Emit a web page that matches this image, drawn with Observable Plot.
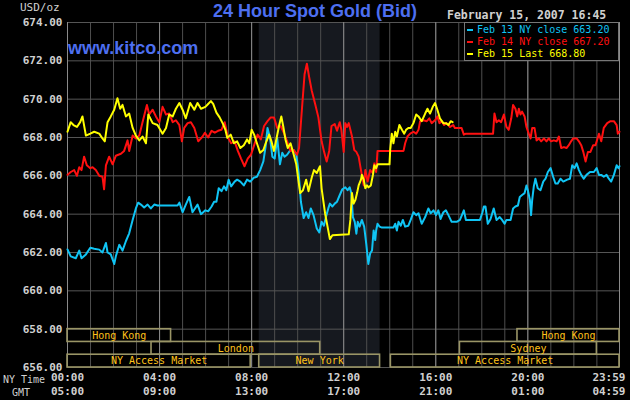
<!DOCTYPE html>
<html>
<head>
<meta charset="utf-8">
<script src="https://cdn.jsdelivr.net/npm/d3@7"></script>
<script src="https://cdn.jsdelivr.net/npm/@observablehq/plot@0.6"></script>
<style>
  html, body { margin: 0; padding: 0; background: #000; }
  #wrap { position: relative; width: 630px; height: 400px; overflow: hidden; background: #000; }
  .ov { position: absolute; white-space: pre; }
  .mono { font-family: "DejaVu Sans Mono", monospace; }
  #title { left: 0; width: 630px; top: 0px; text-align: center; font-family: "Liberation Sans", Arial, sans-serif; font-weight: bold; font-size: 18px; color: #4d6ff0; line-height: 22px; }
  #kitco { left: 68px; top: 37px; font-family: "Liberation Sans", Arial, sans-serif; font-weight: bold; font-size: 18px; color: #4d6ff0; line-height: 22px; }
  #date { left: 447px; top: 7px; font-size: 11.5px; font-weight: bold; color: #d0d0d0; line-height: 16px; }
  #usd { left: 20px; top: 1px; font-size: 11px; color: #d0d0d0; line-height: 14px; }
  #nytime { left: 3px; top: 373px; font-size: 10px; color: #d0d0d0; line-height: 14px; }
  #gmt { left: 12px; top: 386px; font-size: 10px; color: #d0d0d0; line-height: 14px; }
  #legend { left: 464px; top: 22px; width: 153px; height: 37px; border: 1px solid #777; background: #000; }
  .lrow { position: absolute; left: 12px; font-size: 10px; line-height: 12px; }
  .dash { position: absolute; left: -10px; top: 5px; width: 6px; height: 2px; }
</style>
</head>
<body>
<div id="wrap">
  <div id="chart"></div>
  <div id="title" class="ov"></div>
  <div id="kitco" class="ov"></div>
  <div id="date" class="ov mono"></div>
  <div id="usd" class="ov mono"></div>
  <div id="nytime" class="ov mono"></div>
  <div id="gmt" class="ov mono"></div>
  <div id="legend" class="ov mono"></div>
</div>
<script>
// ---------------- data ----------------
const titleText = "24 Hour Spot Gold (Bid)";
const siteText = "www.kitco.com";
const dateText = "February 15, 2007 16:45";
const unitText = "USD/oz";

const seriesNames = ["Feb 13 NY close 663.20", "Feb 14 NY close 667.20", "Feb 15 Last 668.80"];
const seriesColors = ["#10c4f4", "#ff1010", "#ffff00"];

const yTicks = [656, 658, 660, 662, 664, 666, 668, 670, 672, 674];
const xTicks = [0, 4, 8, 12, 16, 20, 23.983];
const nyLabels = ["00:00", "04:00", "08:00", "12:00", "16:00", "20:00", "23:59"];
const gmtLabels = ["05:00", "09:00", "13:00", "17:00", "21:00", "01:00", "04:59"];
const hourLines = d3.range(0, 24, 1).concat([23.983]);

// COMEX floor session (shaded), hours NY time
const pitSession = [8.33, 13.58];

// market sessions: name, start hour, end hour, row
const sessionNames = ["Hong Kong", "London", "NY Access Market", "New York", "NY Access Market", "Sydney", "Hong Kong"];
const sessionStart = [0, 3.65, 0, 8.33, 14.05, 17.05, 19.55];
const sessionEnd   = [4.5, 10.98, 7.96, 13.58, 23.983, 23.0, 23.983];
const sessionRow   = [0, 1, 2, 2, 2, 1, 0];

// price series: [hour (NY time), USD/oz]
const feb13 = [
 [0,662.16],[0.14,661.8],[0.36,661.7],[0.51,662.1],[0.61,661.7],[0.8,661.9],[0.99,662.25],[1.16,662.2],[1.38,662.15],[1.52,662.0],
 [1.67,662.5],[1.74,662.0],[1.88,661.9],[2.03,661.4],[2.1,661.8],[2.25,662.4],[2.39,662.1],[2.54,662.6],[2.68,663.0],[2.83,663.7],
 [2.97,664.3],[3.07,664.6],[3.19,664.5],[3.33,664.35],[3.48,664.5],[3.62,664.3],[3.77,664.5],[3.91,664.45],[4.78,664.45],[4.86,664.6],
 [5.0,664.1],[5.14,664.5],[5.29,664.9],[5.43,664.1],[5.65,664.5],[5.8,664.0],[5.99,664.2],[6.11,664.15],[6.26,664.4],[6.37,664.65],
 [6.47,664.65],[6.57,665.35],[6.69,665.2],[6.8,665.45],[6.9,665.25],[7.0,665.8],[7.11,665.45],[7.26,665.7],[7.37,665.8],[7.51,665.7],
 [7.66,665.5],[7.8,665.8],[7.94,665.7],[8.09,665.9],[8.23,665.95],[8.37,666.3],[8.51,666.75],[8.61,667.55],[8.69,668.5],[8.8,667.98],
 [8.9,667.0],[9.0,666.9],[9.11,667.98],[9.23,666.6],[9.33,667.2],[9.43,667.0],[9.54,667.1],[9.69,667.35],[9.83,667.35],[9.94,667.1],
 [10.04,666.2],[10.14,664.65],[10.26,663.8],[10.37,664.1],[10.47,663.8],[10.57,664.3],[10.69,663.95],[10.83,663.25],[10.94,663.05],[11.04,663.6],
 [11.14,663.4],[11.23,663.85],[11.33,664.3],[11.4,664.55],[11.51,664.4],[11.61,664.55],[11.71,664.65],[11.83,665.0],[11.94,665.3],[12.07,665.4],
 [12.17,665.25],[12.26,665.4],[12.33,665.1],[12.4,663.85],[12.48,663.6],[12.55,662.98],[12.61,663.6],[12.69,663.35],[12.79,663.7],[12.89,663.35],
 [12.98,662.45],[13.07,661.4],[13.15,661.95],[13.23,662.1],[13.3,663.15],[13.37,662.65],[13.41,663.15],[13.47,663.5],[13.56,663.35],[13.66,663.3],
 [14.16,663.3],[14.24,663.5],[14.31,663.15],[14.38,663.6],[14.48,663.4],[14.57,663.7],[14.67,663.35],[14.81,663.4],[14.91,663.7],[15.03,664.1],
 [15.15,663.95],[15.25,664.05],[15.39,663.5],[15.54,663.85],[15.68,664.3],[15.78,664.05],[15.9,664.2],[16.01,663.95],[16.11,664.2],[16.21,663.75],
 [16.33,664.1],[16.44,664.2],[16.55,663.95],[16.69,663.6],[16.91,663.6],[17.05,663.7],[17.22,664.2],[17.31,663.7],[17.92,663.7],[18.03,664.1],
 [18.09,664.4],[18.16,664.4],[18.26,663.5],[18.38,663.75],[18.52,664.3],[18.64,663.7],[18.78,663.85],[18.88,663.7],[18.99,663.5],[19.07,663.7],
 [19.25,663.7],[19.36,664.3],[19.46,664.4],[19.57,664.45],[19.65,664.9],[19.75,665.0],[19.86,665.1],[19.94,665.5],[20.0,665.25],[20.09,664.75],
 [20.14,663.95],[20.19,664.75],[20.26,665.45],[20.33,665.85],[20.43,665.35],[20.55,665.25],[20.67,665.7],[20.77,665.85],[20.87,666.2],[20.99,666.4],
 [21.1,665.95],[21.2,665.6],[21.3,665.6],[21.42,665.85],[21.54,665.7],[21.71,665.8],[21.83,665.85],[21.93,666.55],[22.03,666.4],[22.12,666.65],
 [22.22,666.3],[22.32,666.05],[22.43,665.85],[22.55,666.05],[22.7,666.2],[22.87,666.2],[22.99,666.4],[23.09,666.05],[23.19,666.05],[23.3,665.95],
 [23.42,666.05],[23.52,665.85],[23.62,665.7],[23.74,666.05],[23.86,666.55],[23.94,666.4],[23.98,666.5]
];
const feb14 = [
 [0,666.05],[0.14,666.2],[0.29,666.3],[0.41,666.0],[0.51,666.45],[0.61,666.3],[0.72,667.0],[0.84,666.55],[0.99,666.4],[1.09,666.45],
 [1.23,666.3],[1.38,666.0],[1.52,665.95],[1.59,665.3],[1.67,666.55],[1.81,667.0],[1.96,666.6],[2.1,667.05],[2.32,667.15],[2.46,667.3],
 [2.61,667.85],[2.68,667.3],[2.83,668.1],[2.97,667.95],[3.12,668.1],[3.26,668.8],[3.45,669.7],[3.55,669.2],[3.7,669.45],[3.84,669.1],
 [3.99,668.8],[4.13,669.6],[4.28,669.2],[4.42,669.25],[4.57,668.8],[4.71,668.9],[4.86,668.65],[4.97,667.8],[5.07,668.5],[5.22,668.75],
 [5.36,668.8],[5.51,668.5],[5.68,667.8],[5.87,668.05],[5.97,668.25],[6.11,668.0],[6.26,668.35],[6.4,668.25],[6.54,668.35],[6.69,668.4],
 [6.83,668.8],[6.97,668.0],[7.11,667.7],[7.26,667.8],[7.4,667.3],[7.54,666.9],[7.69,666.5],[7.83,666.9],[7.97,667.1],[8.11,667.6],
 [8.26,668.15],[8.4,667.9],[8.54,668.6],[8.69,668.85],[8.83,669.05],[8.97,669.05],[9.11,668.5],[9.26,668.6],[9.4,668.25],[9.54,667.8],
 [9.69,667.3],[9.83,667.35],[9.97,667.1],[10.06,667.45],[10.19,669.55],[10.3,671.3],[10.4,671.85],[10.5,671.15],[10.61,670.45],[10.76,669.75],
 [10.9,669.05],[11.04,667.8],[11.14,667.3],[11.26,666.75],[11.37,667.3],[11.47,668.6],[11.61,668.7],[11.71,668.35],[11.83,668.8],[11.9,668.4],
 [12.0,667.25],[12.07,668.75],[12.14,668.55],[12.22,668.75],[12.29,668.4],[12.36,668.05],[12.46,667.35],[12.55,667.25],[12.65,667.0],[12.75,666.3],
 [12.87,665.5],[12.94,666.3],[13.04,665.7],[13.15,666.3],[13.26,666.15],[13.33,666.65],[13.41,666.2],[13.47,667.3],[14.6,667.3],[14.67,667.7],
 [14.77,668.05],[14.89,668.2],[15.03,668.3],[15.15,668.2],[15.25,668.4],[15.32,668.85],[15.46,668.9],[15.61,668.85],[15.72,669.0],[15.82,668.75],
 [15.97,668.9],[16.07,669.1],[16.16,668.75],[16.26,668.85],[16.36,668.65],[16.47,668.75],[16.62,668.55],[16.76,668.65],[16.83,668.5],[17.12,668.5],
 [17.22,668.15],[17.31,668.2],[18.49,668.2],[18.55,669.25],[18.64,668.8],[18.74,668.9],[18.84,668.8],[18.96,669.2],[19.07,668.55],[19.17,668.4],
 [19.28,669.0],[19.36,669.7],[19.46,669.5],[19.54,669.1],[19.61,669.5],[19.68,669.2],[19.75,669.35],[19.86,669.1],[19.94,668.55],[20.04,668.2],
 [20.12,667.95],[20.19,668.5],[20.29,668.5],[20.38,667.85],[20.48,667.95],[20.58,667.8],[20.7,667.95],[20.81,667.8],[20.91,667.95],[21.01,667.8],
 [21.13,667.85],[21.25,667.8],[21.35,668.05],[21.45,667.45],[21.57,667.5],[21.68,667.45],[21.78,667.6],[21.88,667.8],[21.97,667.95],[22.12,667.95],
 [22.22,667.8],[22.32,667.6],[22.41,667.25],[22.51,666.75],[22.61,667.25],[22.72,667.25],[22.84,667.6],[22.94,667.6],[23.09,668.2],[23.19,667.8],
 [23.3,668.5],[23.45,668.75],[23.59,668.85],[23.74,668.85],[23.86,668.65],[23.91,668.2],[23.98,668.3]
];
const feb15 = [
 [0,668.3],[0.14,668.8],[0.26,668.65],[0.41,668.55],[0.55,668.8],[0.65,669.1],[0.8,668.1],[0.99,668.2],[1.16,668.3],[1.38,668.2],
 [1.52,667.95],[1.62,667.8],[1.74,668.8],[1.88,669.1],[2.03,669.45],[2.17,670.05],[2.29,669.5],[2.39,669.7],[2.54,669.1],[2.68,669.25],
 [2.83,668.5],[2.97,668.1],[3.12,667.85],[3.26,668.05],[3.41,667.7],[3.51,669.2],[3.7,668.75],[3.91,668.65],[4.13,668.2],[4.28,668.5],
 [4.42,669.2],[4.57,669.1],[4.71,669.5],[4.86,669.8],[5.0,669.45],[5.14,669.0],[5.33,669.8],[5.51,669.45],[5.65,669.8],[5.8,669.5],
 [5.99,669.6],[6.11,669.75],[6.23,669.9],[6.33,669.75],[6.47,669.3],[6.61,669.05],[6.76,668.7],[6.86,668.4],[6.94,667.98],[7.09,668.15],
 [7.23,667.7],[7.37,667.8],[7.51,667.45],[7.66,667.6],[7.8,667.9],[7.9,667.7],[8.0,668.4],[8.11,668.15],[8.23,667.7],[8.37,667.2],
 [8.51,667.35],[8.61,667.7],[8.76,668.15],[8.86,667.8],[8.97,667.3],[9.09,668.0],[9.19,668.6],[9.29,669.1],[9.37,668.6],[9.47,667.9],
 [9.57,667.45],[9.69,667.7],[9.83,667.1],[9.94,666.6],[10.04,665.7],[10.11,665.1],[10.23,665.25],[10.37,665.8],[10.47,665.2],[10.61,665.9],
 [10.71,666.3],[10.83,666.15],[10.97,666.5],[11.04,665.35],[11.19,664.05],[11.29,663.4],[11.4,662.7],[11.51,662.9],[12.22,662.95],[12.29,663.7],
 [12.36,665.1],[12.43,664.55],[12.51,664.75],[12.58,665.1],[12.65,665.5],[12.75,665.8],[12.79,666.05],[12.87,665.8],[12.94,665.35],[13.01,665.5],
 [13.08,665.4],[13.18,665.5],[13.27,666.05],[13.33,666.55],[13.41,666.4],[13.47,666.6],[13.99,666.6],[14.02,667.35],[14.09,668.2],[14.16,667.7],
 [14.24,668.3],[14.31,668.05],[14.42,668.65],[14.53,668.4],[14.63,668.2],[14.71,668.4],[14.81,668.5],[14.91,668.5],[15.03,668.75],[15.15,669.2],
 [15.25,669.1],[15.39,668.85],[15.54,669.25],[15.64,669.5],[15.75,669.25],[15.87,669.6],[15.97,669.8],[16.07,669.45],[16.18,669.0],[16.33,668.75],
 [16.44,668.75],[16.55,668.65],[16.65,668.85],[16.73,668.8]
];

// ---------------- chart ----------------
const series = [feb13, feb14, feb15];
const sessions = sessionNames.map((name, i) => ({name, start: sessionStart[i], end: sessionEnd[i], row: sessionRow[i]}));
const rowTop = r => 658 - r * 2 / 3;
const rowBottom = r => 658 - (r + 1) * 2 / 3;
const font = "DejaVu Sans Mono";
const tickFont = {fontSize: 11, fontWeight: "bold", fill: "#d0d0d0", fontFamily: font};

const chart = Plot.plot({
  width: 630,
  height: 400,
  marginLeft: 67,
  marginRight: 11,
  marginTop: 22,
  marginBottom: 33,
  style: {background: "#000", color: "#d0d0d0", fontFamily: font},
  x: {domain: [0, 23.983], axis: null},
  y: {domain: [656, 674], axis: null},
  marks: [
    Plot.rect([pitSession], {x1: d => d[0], x2: d => d[1], y1: 656, y2: 674, fill: "#16191f"}),
    Plot.ruleX(hourLines, {stroke: "#4e4e4e", strokeWidth: 1}),
    Plot.ruleY(yTicks, {stroke: "#555", strokeWidth: 1}),
    Plot.ruleX(xTicks, {stroke: "#8a8a8a", strokeWidth: 1}),
    Plot.rect(sessions, {x1: "start", x2: "end", y1: d => rowTop(d.row), y2: d => rowBottom(d.row), stroke: "#9a9566", strokeWidth: 1.6, fill: "none"}),
    Plot.text(sessions, {x: d => (d.start + d.end) / 2, y: d => (rowTop(d.row) + rowBottom(d.row)) / 2, text: "name", fill: "#ffc21a", fontSize: 10, fontFamily: font}),
    ...series.map((s, i) => Plot.line(s, {x: d => d[0], y: d => d[1], stroke: seriesColors[i], strokeWidth: 2})),
    Plot.axisY(yTicks, {tickFormat: d => d.toFixed(2), tickSize: 0, tickPadding: 5, ...tickFont}),
    Plot.text(xTicks.slice(0, -1), {x: d => d, frameAnchor: "bottom", dy: 13.5, text: (d, i) => nyLabels[i], ...tickFont}),
    Plot.text(xTicks.slice(0, -1), {x: d => d, frameAnchor: "bottom", dy: 27.5, text: (d, i) => gmtLabels[i], ...tickFont}),
    Plot.text(xTicks.slice(-1), {x: d => d, frameAnchor: "bottom", dy: 13.5, dx: 6, textAnchor: "end", text: () => nyLabels[nyLabels.length - 1], ...tickFont}),
    Plot.text(xTicks.slice(-1), {x: d => d, frameAnchor: "bottom", dy: 27.5, dx: 6, textAnchor: "end", text: () => gmtLabels[gmtLabels.length - 1], ...tickFont})
  ]
});
document.getElementById("chart").appendChild(chart);

document.getElementById("title").textContent = titleText;
document.getElementById("kitco").textContent = siteText;
document.getElementById("date").textContent = dateText;
document.getElementById("usd").textContent = unitText;
document.getElementById("nytime").textContent = "NY Time";
document.getElementById("gmt").textContent = "GMT";

const legend = document.getElementById("legend");
seriesNames.forEach((name, i) => {
  const row = document.createElement("div");
  row.className = "lrow";
  row.style.top = (1 + i * 12.2) + "px";
  row.style.color = seriesColors[i];
  const dash = document.createElement("div");
  dash.className = "dash";
  dash.style.background = seriesColors[i];
  row.appendChild(dash);
  row.appendChild(document.createTextNode(name));
  legend.appendChild(row);
});
</script>
</body>
</html>
